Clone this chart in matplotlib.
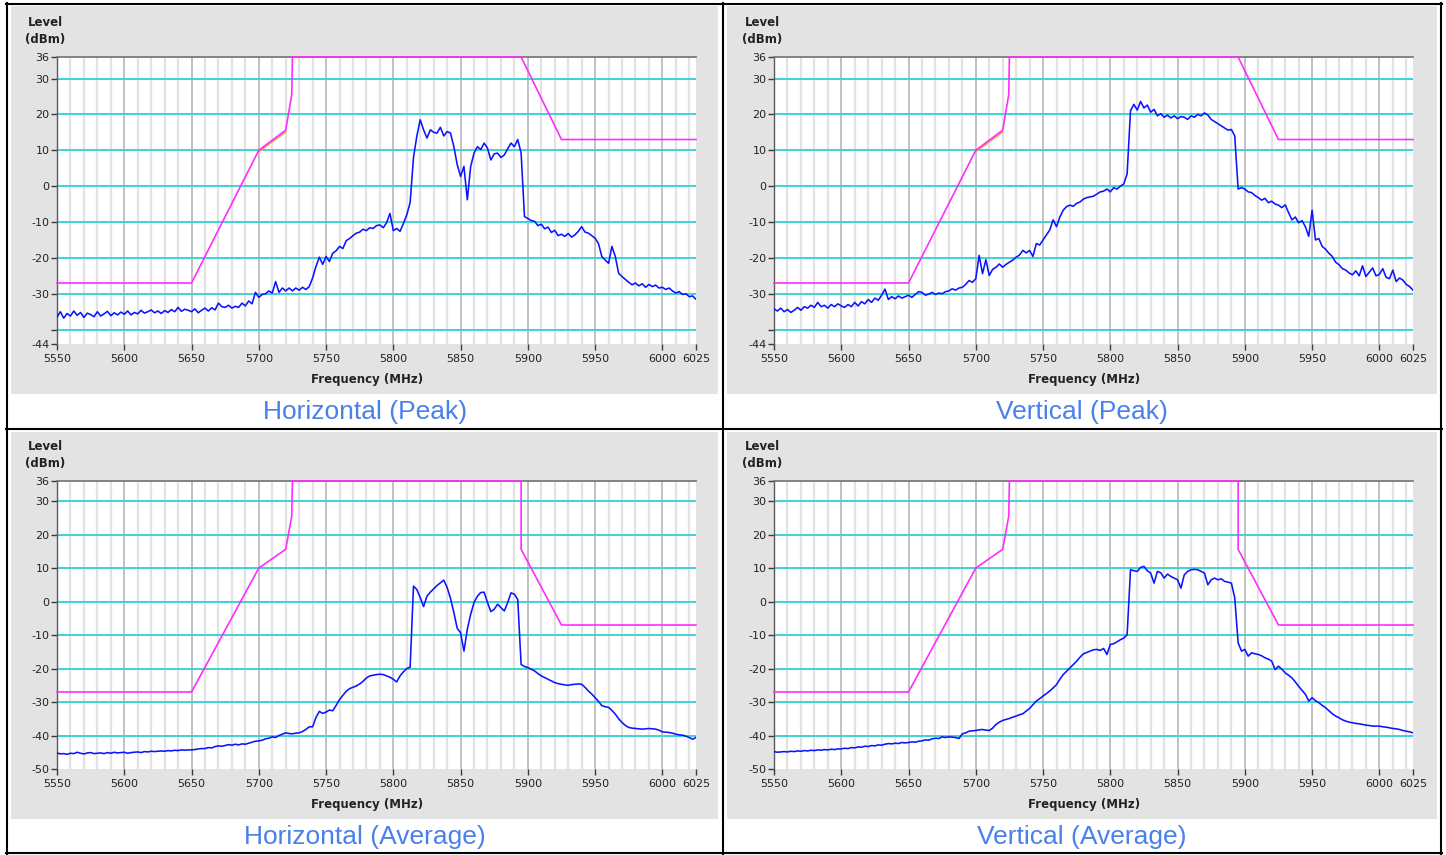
import matplotlib
matplotlib.use('Agg')
import matplotlib.pyplot as plt
from matplotlib.patches import Rectangle
from matplotlib.lines import Line2D
import numpy as np

W, H = 1446, 855

# frequency grid of the analyser traces (MHz), 2.5 MHz steps
freq = np.arange(5550, 6025.1, 2.5)

# Horizontal (Peak) level, dBm
h_peak = [
    -36.5, -35.0, -36.8, -35.5, -36.2, -34.8, -36.0, -35.2, -36.6, -35.4,
    -35.8, -36.4, -35.0, -36.2, -35.6, -34.9, -36.1, -35.3, -35.9, -35.1,
    -35.7, -34.8, -35.9, -35.2, -35.6, -34.6, -35.4, -35.0, -34.5, -35.3,
    -34.8, -35.5, -34.7, -35.2, -34.4, -35.0, -33.8, -34.9, -34.3, -34.6,
    -35.0, -34.2, -35.3, -34.6, -34.0, -34.8, -33.9, -34.5, -32.6, -33.6,
    -33.8, -33.2, -34.0, -33.5, -33.8, -32.6, -33.4, -32.0, -32.8, -29.6,
    -31.0, -30.2, -30.0, -29.2, -29.8, -26.6, -29.6, -28.4, -29.2, -28.4,
    -29.2, -28.4, -29.0, -28.2, -28.8, -28.0, -25.6, -22.4, -19.8, -21.8,
    -19.6, -21.0, -18.7, -18.0, -16.8, -17.4, -15.2, -14.6, -13.8, -13.1,
    -12.8, -12.0, -12.4, -11.6, -11.8, -11.0, -10.8, -11.6, -10.2, -7.6,
    -12.4, -11.8, -12.6, -10.4, -8.0, -4.6, 8.0, 14.0, 18.5, 15.7,
    13.4, 15.7, 15.0, 14.8, 16.4, 14.0, 15.2, 14.8, 11.0, 6.0,
    2.7, 5.5, -3.8, 5.5, 9.2, 11.0, 10.2, 12.0, 10.6, 7.3,
    9.0, 9.2, 8.0, 8.7, 10.4, 12.0, 11.0, 13.0, 9.2, -8.5,
    -9.0, -9.6, -9.8, -11.0, -10.6, -11.9, -11.4, -12.9, -12.3, -13.8,
    -13.4, -14.0, -13.2, -14.2, -13.6, -12.6, -11.3, -12.8, -13.1, -13.8,
    -14.5, -16.0, -19.6, -20.6, -21.5, -16.8, -19.6, -24.3, -25.2, -26.0,
    -26.8, -27.5, -27.0, -27.8, -27.2, -28.2, -27.4, -28.0, -27.6, -28.4,
    -28.2, -28.8, -28.4, -29.2, -29.8, -29.4, -30.2, -30.0, -30.8, -30.6,
    -31.5,
]

# Vertical (Peak) level, dBm
v_peak = [
    -34.2, -34.8, -34.0, -35.0, -34.4, -35.2, -34.6, -33.8, -34.6, -33.6,
    -34.0, -33.2, -33.8, -32.4, -33.6, -33.2, -34.0, -33.0, -33.6, -32.8,
    -33.4, -33.8, -33.0, -33.6, -32.4, -33.4, -32.2, -32.8, -31.6, -32.4,
    -31.2, -31.8, -30.4, -28.7, -31.6, -30.8, -31.4, -30.6, -31.2, -30.8,
    -30.4, -31.0, -30.2, -29.4, -29.6, -30.4, -30.1, -29.6, -30.2, -29.8,
    -30.0, -29.4, -29.2, -28.6, -29.0, -28.4, -28.2, -27.4, -26.3, -26.8,
    -25.8, -19.3, -24.4, -20.5, -24.9, -23.2, -22.6, -21.7, -22.6, -21.8,
    -21.2, -20.6, -19.8, -19.2, -17.9, -18.6, -17.9, -19.6, -16.0, -16.4,
    -15.0, -13.6, -12.2, -9.4, -11.3, -8.6, -6.7, -5.7, -5.3, -5.6,
    -4.8, -4.4, -3.6, -3.2, -3.0, -2.8, -2.2, -1.6, -1.4, -0.8,
    -1.6, -0.4, -0.8, 0.0, 0.6, 3.4, 21.0, 22.8, 21.2, 23.6,
    21.8, 22.6, 20.6, 21.4, 19.6, 20.2, 19.2, 19.8, 19.0, 19.6,
    18.8, 19.4, 19.2, 18.6, 19.6, 19.2, 20.0, 19.6, 20.4, 19.8,
    18.6, 18.0, 17.4, 16.8, 16.2, 15.6, 15.8, 14.0, -0.8, -0.4,
    -0.8, -1.6, -1.8, -2.6, -3.2, -3.9, -3.4, -4.6, -4.2, -5.0,
    -5.3, -6.0, -5.2, -7.4, -9.4, -8.6, -10.2, -9.6, -11.3, -14.0,
    -6.7, -15.0, -14.6, -16.8, -17.6, -18.7, -19.6, -21.2, -21.9, -23.0,
    -23.4, -24.2, -24.7, -23.6, -25.0, -22.2, -25.2, -24.0, -22.8, -25.0,
    -24.6, -23.0, -25.4, -25.8, -23.4, -26.6, -25.6, -26.2, -27.4, -28.0,
    -29.0,
]

# Horizontal (Average) level, dBm
h_avg = [
    -45.2, -45.5, -45.4, -45.6, -45.3, -45.4, -45.0, -45.3, -45.5, -45.2,
    -45.1, -45.4, -45.3, -45.2, -45.4, -45.1, -45.3, -45.0, -45.2, -45.1,
    -45.0, -45.3, -45.1, -45.0, -44.9, -45.1, -44.8, -44.9, -44.7, -44.8,
    -44.7, -44.6, -44.7, -44.5, -44.6, -44.4, -44.5, -44.3, -44.4, -44.3,
    -44.3, -44.2, -44.0, -43.9, -43.9, -43.6, -43.7, -43.3, -43.1, -43.2,
    -43.0, -42.7, -42.9, -42.6, -42.8, -42.5, -42.6, -42.3, -42.0, -41.7,
    -41.6, -41.4, -41.0, -40.8, -40.4, -40.6, -40.0, -39.6, -39.2, -39.4,
    -39.5, -39.3, -39.2, -38.8, -38.2, -37.4, -37.4, -34.6, -32.8, -33.4,
    -33.0, -32.4, -32.6, -31.0, -29.3, -28.0, -26.8, -26.0, -25.6, -25.2,
    -24.6, -23.8, -22.8, -22.2, -22.0, -21.8, -21.7, -21.8, -22.2, -22.6,
    -23.2, -24.0, -22.2, -21.0, -20.0, -19.6, 4.6, 3.6, 1.2, -1.5,
    1.6, 2.8, 3.8, 4.8, 5.6, 6.4, 4.2, 1.0, -3.3, -8.0,
    -9.3, -14.8, -8.3, -3.8, -0.3, 1.6, 2.7, 2.8, -0.3, -3.0,
    -2.3, -0.8, -1.8, -2.8, -0.3, 2.6, 2.2, 0.6, -18.8, -19.4,
    -19.7, -20.2, -20.7, -21.5, -22.2, -22.7, -23.2, -23.7, -24.2, -24.5,
    -24.7, -24.9, -25.0, -24.8, -24.7, -24.6, -24.7, -25.6, -26.7, -27.6,
    -28.7, -29.8, -31.1, -31.4, -31.6, -32.5, -33.6, -35.0, -36.1, -37.0,
    -37.6, -37.8, -37.9, -38.0, -38.1, -38.0, -37.9, -38.0, -38.1, -38.4,
    -38.9, -39.0, -39.1, -39.3, -39.6, -39.8, -39.9, -40.2, -40.6, -41.1,
    -40.6,
]

# Vertical (Average) level, dBm
v_avg = [
    -44.8, -45.0, -44.9, -44.8, -44.9, -44.7, -44.8, -44.6, -44.7, -44.5,
    -44.6, -44.4, -44.5, -44.3, -44.4, -44.2, -44.3, -44.1, -44.2, -44.0,
    -44.0, -43.8, -43.9, -43.6, -43.7, -43.4, -43.5, -43.2, -43.3, -43.0,
    -43.1, -42.8, -42.9, -42.6, -42.4, -42.5, -42.3, -42.4, -42.1, -42.2,
    -42.1, -41.9, -42.0, -41.7, -41.6, -41.3, -41.4, -41.0, -40.8, -40.9,
    -40.4, -40.6, -40.4, -40.5, -40.6, -40.9, -39.5, -39.2, -38.7, -38.6,
    -38.5, -38.3, -38.2, -38.4, -38.5, -37.8, -36.7, -36.0, -35.5, -35.2,
    -34.9, -34.5, -34.2, -33.8, -33.5, -32.7, -31.9, -30.8, -29.7, -29.0,
    -28.2, -27.5, -26.7, -25.8, -24.8, -23.2, -21.8, -20.8, -19.8, -18.8,
    -17.8, -16.6, -15.6, -15.2, -14.8, -14.4, -14.3, -14.6, -14.0, -15.8,
    -12.8, -12.6, -12.0, -11.4, -10.9, -9.9, 9.5, 9.2, 9.0, 10.2,
    10.5, 9.2, 8.5, 5.5, 9.0, 8.6, 7.0, 8.2, 7.5, 7.0,
    6.5, 4.0, 8.0, 9.0, 9.5, 9.6, 9.5, 9.0, 8.5, 5.0,
    6.5, 7.0, 6.5, 6.8, 6.0, 5.8, 5.5, 1.1, -12.3, -14.8,
    -14.3, -16.3, -15.3, -15.6, -15.8, -16.2, -16.8, -17.2, -17.8, -20.3,
    -19.3, -20.2, -21.3, -22.0, -22.8, -24.0, -25.3, -26.5, -27.7, -29.7,
    -28.7, -29.6, -30.2, -31.0, -31.7, -32.6, -33.5, -34.2, -34.7, -35.3,
    -35.7, -36.0, -36.2, -36.4, -36.5, -36.7, -36.9, -37.0, -37.2, -37.2,
    -37.2, -37.4, -37.5, -37.7, -37.9, -38.0, -38.2, -38.5, -38.7, -38.9,
    -39.2,
]

# limit masks
mask_peak_f = [5550, 5650, 5700, 5720, 5722, 5724.5, 5725, 5895, 5925, 6025]
mask_peak_l = [-27, -27, 10, 15.6, 20, 25.5, 36, 36, 13, 13]
mask_avg_f = [5550, 5650, 5700, 5720, 5722, 5724.5, 5725, 5895, 5895, 5925, 6025]
mask_avg_l = [-27, -27, 10, 15.6, 20, 25.5, 36, 36, 15.6, -7, -7]
mask_alt_f = [5700, 5720]
mask_alt_l = [9.6, 15.1]

x_ticks = [5550, 5600, 5650, 5700, 5750, 5800, 5850, 5900, 5950, 6000, 6025]
y_ticks_peak = [36, 30, 20, 10, 0, -10, -20, -30, -40, -44]
y_labels_peak = ['36', '30', '20', '10', '0', '-10', '-20', '-30', '', '-44']
y_ticks_avg = [36, 30, 20, 10, 0, -10, -20, -30, -40, -50]
y_labels_avg = ['36', '30', '20', '10', '0', '-10', '-20', '-30', '-40', '-50']

titles = ['Horizontal (Peak)', 'Vertical (Peak)', 'Horizontal (Average)', 'Vertical (Average)']

fig = plt.figure(figsize=(W / 100, H / 100), dpi=100)
fig.patch.set_facecolor('white')


def fx(x):
    return x / W


def fy(y):
    return 1 - y / H


# table borders
for y in [4, 429, 853]:
    fig.add_artist(Line2D([fx(6), fx(1442)], [fy(y), fy(y)], color='black', lw=1.5))
for x in [7, 723, 1441]:
    fig.add_artist(Line2D([fx(x), fx(x)], [fy(3), fy(854)], color='black', lw=1.5))

# (data, mask, ymin, ticks, labels, cell offset x, cell offset y, orange)
panels = [
    (h_peak, mask_peak_f, mask_peak_l, -44, y_ticks_peak, y_labels_peak, 0, 0, True),
    (v_peak, mask_peak_f, mask_peak_l, -44, y_ticks_peak, y_labels_peak, 717, 0, True),
    (h_avg, mask_avg_f, mask_avg_l, -50, y_ticks_avg, y_labels_avg, 0, 424, False),
    (v_avg, mask_avg_f, mask_avg_l, -50, y_ticks_avg, y_labels_avg, 717, 424, False),
]

for i, (data, mf, ml, ymin, yt, yl, ox, oy, orange) in enumerate(panels):
    # grey panel
    gx0, gy0, gx1, gy1 = 11 + ox - (1 if ox else 0), 6 + oy + (2 if oy else 0), 718 + ox + (2 if ox else 0), 394 + oy + (1 if oy else 0)
    fig.add_artist(Rectangle((fx(gx0), fy(gy1)), fx(gx1 - gx0), (gy1 - gy0) / H,
                             transform=fig.transFigure, facecolor='#e3e3e3',
                             edgecolor='none', zorder=-1))
    ax_x0, ax_x1 = 57 + ox, 696 + ox
    ax_y0 = 57 + oy
    ax_y1 = 344 + oy if ymin == -44 else 345 + oy
    ax = fig.add_axes([fx(ax_x0), fy(ax_y1), fx(ax_x1 - ax_x0), (ax_y1 - ax_y0) / H])
    ax.set_facecolor('white')
    ax.set_xlim(5550, 6025)
    ax.set_ylim(ymin, 36)

    for f in range(5560, 6025, 10):
        if f % 50 == 0:
            ax.axvline(f, color='#bdbdbd', lw=1.3, zorder=1)
        else:
            ax.axvline(f, color='#e2e2e2', lw=1.6, zorder=1)
    for lv in range(-40, 31, 10):
        ax.axhline(lv, color='#3ed2d2', lw=1.4, zorder=2)

    if orange:
        ax.plot(mask_alt_f, mask_alt_l, color='#ff9a30', lw=1.0, zorder=3)
    ax.plot(freq, data, color='#0a14ff', lw=1.15, zorder=5)
    ax.plot(mf, ml, color='#ff2cff', lw=1.2, zorder=6, clip_on=False)

    for s in ['right', 'bottom']:
        ax.spines[s].set_visible(False)
    ax.spines['left'].set_color('#5a5a5a')
    ax.spines['left'].set_linewidth(1.0)
    ax.spines['top'].set_color('#707070')
    ax.spines['top'].set_linewidth(1.2)

    ax.set_xticks(x_ticks)
    ax.set_xticklabels([str(t) for t in x_ticks])
    ax.set_yticks(yt)
    ax.set_yticklabels(yl)
    ax.tick_params(axis='both', direction='out', length=4, width=1.0,
                   color='#3a3a3a', labelsize=8, labelcolor='#222222')
    ax.tick_params(axis='x', pad=3)
    ax.tick_params(axis='y', pad=1.5)

    fig.text(fx(28 + ox), fy(22 + oy), 'Level', fontsize=8.5, fontweight='bold',
             color='#222222', ha='left', va='center')
    fig.text(fx(25 + ox), fy(40 + oy), '(dBm)', fontsize=8.5, fontweight='bold',
             color='#222222', ha='left', va='center')
    fig.text(fx(367 + ox), fy(379 + oy + (1 if oy else 0)), 'Frequency (MHz)', fontsize=8.5,
             fontweight='bold', color='#222222', ha='center', va='center')
    fig.text(fx(365 + ox), fy(412 + oy + (1 if oy else 0)), titles[i], fontsize=19,
             family='Liberation Sans', color='#4a80ea', ha='center', va='center')

fig.savefig('out.png', dpi=100, facecolor='white')
